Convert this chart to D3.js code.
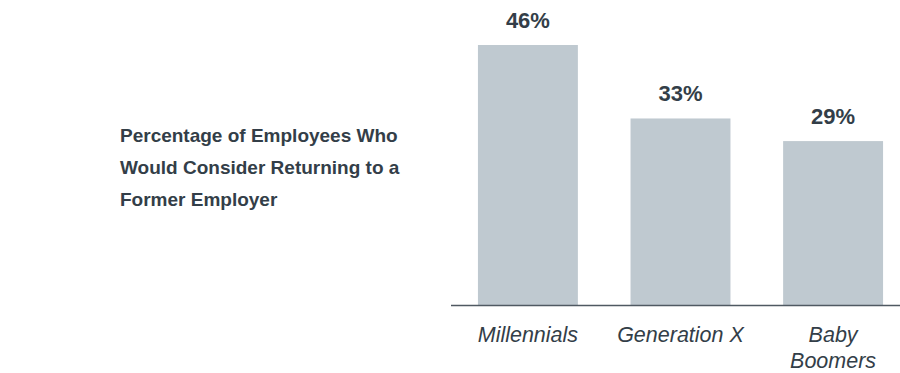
<!DOCTYPE html>
<html>
<head>
<meta charset="utf-8">
<title>Returning to a Former Employer</title>
<script src="https://d3js.org/d3.v7.min.js"></script>
<style>
  body { margin: 0; background: #ffffff; }
  text { font-family: Arial, "Liberation Sans", sans-serif; fill: #333e48; }
</style>
</head>
<body>
<div id="chart"></div>
<script>
var generations = [["Millennials"], ["Generation X"], ["Baby", "Boomers"]];
var percentages = [46, 33, 29];
var titleLines = ["Percentage of Employees Who", "Would Consider Returning to a", "Former Employer"];

var width = 900;
var height = 373;
var baseY = 305;

var svg = d3.select("#chart")
    .append("svg")
    .attr("width", width)
    .attr("height", height);

var x = d3.scaleBand()
    .domain(d3.range(generations.length))
    .range([452, 909])
    .paddingInner(0.345)
    .paddingOuter(0.17);

var y = d3.scaleLinear()
    .domain([0, 46])
    .range([baseY, 45]);

// bars
svg.selectAll("rect.bar")
    .data(percentages)
    .enter()
    .append("rect")
    .attr("class", "bar")
    .attr("x", function(d, i) { return x(i); })
    .attr("y", function(d) { return y(d); })
    .attr("width", x.bandwidth())
    .attr("height", function(d) { return y(0) - y(d); })
    .attr("fill", "#bfc9d0");

// value labels
svg.selectAll("text.value")
    .data(percentages)
    .enter()
    .append("text")
    .attr("class", "value")
    .attr("x", function(d, i) { return x(i) + x.bandwidth() / 2; })
    .attr("y", function(d) { return y(d) - 17; })
    .attr("text-anchor", "middle")
    .attr("font-size", 22)
    .attr("font-weight", "bold")
    .text(function(d) { return d + "%"; });

// baseline
svg.append("line")
    .attr("x1", 451)
    .attr("x2", width)
    .attr("y1", baseY + 0.5)
    .attr("y2", baseY + 0.5)
    .attr("stroke", "#4f5962")
    .attr("stroke-width", 1.5);

// category labels
var cats = svg.selectAll("text.cat")
    .data(generations)
    .enter()
    .append("text")
    .attr("class", "cat")
    .attr("text-anchor", "middle")
    .attr("font-size", 21.5)
    .attr("font-style", "italic")
    .attr("y", 342);

cats.selectAll("tspan")
    .data(function(d, i) { return d.map(function(s) { return { s: s, i: i }; }); })
    .enter()
    .append("tspan")
    .attr("x", function(d) { return x(d.i) + x.bandwidth() / 2; })
    .attr("dy", function(d, j) { return j == 0 ? 0 : 26; })
    .text(function(d) { return d.s; });

// title
svg.append("text")
    .attr("font-size", 19)
    .attr("font-weight", "bold")
    .selectAll("tspan")
    .data(titleLines)
    .enter()
    .append("tspan")
    .attr("x", 120)
    .attr("y", function(d, i) { return 141.5 + i * 32; })
    .text(function(d) { return d; });
</script>
</body>
</html>
